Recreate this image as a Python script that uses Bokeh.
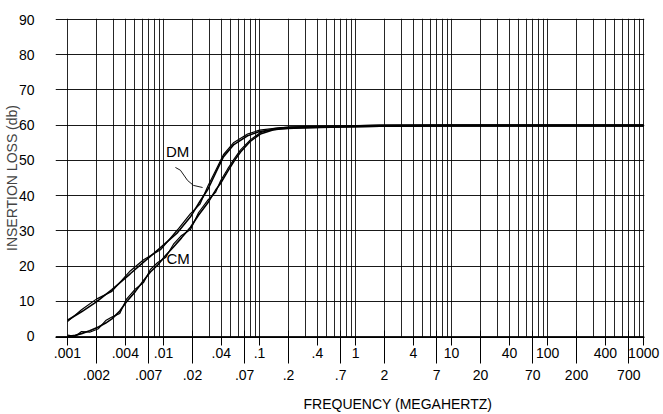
from bokeh.plotting import figure
from bokeh.models import (Range1d, FixedTicker, LogAxis, Label, Title, Grid)
from bokeh.embed import file_html
from bokeh.resources import INLINE

# ---------------- data ----------------
dm_freq = [0.001, 0.0014, 0.002, 0.0029, 0.0045, 0.0062, 0.0093, 0.014, 0.019,
           0.024, 0.029, 0.035, 0.042, 0.054, 0.075, 0.10, 0.165, 0.27, 0.55,
           1.8, 10, 1000]
dm_loss = [4.6, 7.0, 9.8, 13.3, 17.8, 21.1, 25.2, 29.5, 33.9, 38.4, 41.8, 46.5,
           51.0, 54.5, 57.0, 58.2, 59.0, 59.2, 59.4, 59.7, 59.8, 59.8]
dm_loss_2 = [4.2, 7.6, 10.6, 12.8, 18.6, 21.8, 24.6, 30.3, 34.8, 37.6, 42.7, 47.2,
             51.6, 55.1, 57.5, 58.6, 59.3, 59.5, 59.7, 60.0, 60.1, 60.1]

cm_freq = [0.001, 0.0012, 0.0014, 0.0017, 0.0021, 0.0025, 0.0029, 0.0035, 0.0041,
           0.0051, 0.0062, 0.0073, 0.0087, 0.0105, 0.0127, 0.0154, 0.0191, 0.0232,
           0.0287, 0.0348, 0.0393, 0.0464, 0.0549, 0.0634, 0.0806, 0.102, 0.14,
           0.21, 0.43, 1.8, 10, 1000]
cm_loss = [0.0, 0.3, 0.8, 1.6, 2.7, 3.8, 5.0, 7.2, 9.8, 12.8, 15.9, 18.3, 20.3,
           23.0, 25.4, 28.0, 31.0, 34.5, 37.8, 41.5, 43.5, 46.8, 50.0, 52.4, 55.5,
           57.5, 58.7, 59.2, 59.4, 59.7, 59.8, 59.8]
cm_loss_2 = [0.4, 0.0, 1.4, 1.2, 2.2, 4.5, 5.5, 6.5, 10.5, 13.5, 15.3, 19.0, 21.0,
             22.4, 26.2, 28.7, 30.4, 35.2, 38.6, 40.9, 44.2, 47.5, 50.6, 53.0, 55.9,
             57.9, 59.0, 59.5, 59.7, 60.0, 60.1, 60.1]

# DM leader line and label anchors (data coords)
dm_leader_freq = [0.0133, 0.0150, 0.0178, 0.0205, 0.0255]
dm_leader_loss = [48.0, 47.2, 44.3, 42.9, 42.3]
dm_label_pos = (0.0140, 52.6)
cm_label_pos = (0.0142, 22.2)

# tick rows
row1_ticks = [0.001, 0.004, 0.01, 0.04, 0.1, 0.4, 1, 4, 10, 40, 100, 400, 1000]
row1_labels = [".001", ".004", ".01", ".04", ".1", ".4", "1", "4", "10", "40",
               "100", "400", "1000"]
row2_ticks = [0.002, 0.007, 0.02, 0.07, 0.2, 0.7, 2, 7, 20, 70, 200, 700]
row2_labels = [".002", ".007", ".02", ".07", ".2", ".7", "2", "7", "20", "70",
               "200", "700"]
decades = [0.001, 0.01, 0.1, 1, 10, 100]
multipliers = [1, 2, 3, 4, 5, 6, 7, 8, 9]
y_ticks = [0, 10, 20, 30, 40, 50, 60, 70, 80, 90]

FONT = "Liberation Sans"

grid_x = [round(d * m, 6) for d in decades for m in multipliers] + [1000]

p = figure(x_axis_type="log", x_axis_location=None,
           x_range=Range1d(0.00075, 1020), y_range=Range1d(-0.3, 90.3),
           width=663, height=427,
           min_border_left=55, min_border_right=19, min_border_top=18,
           min_border_bottom=90,
           output_backend="svg", toolbar_location=None)
p.outline_line_color = None
p.background_fill_color = "white"
p.border_fill_color = "white"

# x axes (two rows of labels)
ax1 = LogAxis(ticker=FixedTicker(ticks=row1_ticks, minor_ticks=[]))
ax1.major_label_overrides = dict(zip(row1_ticks, row1_labels))
ax1.major_tick_out = 8
ax1.major_tick_in = 0
ax1.minor_tick_out = 0
ax1.minor_tick_in = 0
ax1.major_tick_line_color = "black"
ax1.minor_tick_line_color = None
ax1.axis_line_color = "black"
ax1.major_label_standoff = 2
ax1.major_label_text_font = FONT
ax1.major_label_text_font_size = "14px"
ax1.major_label_text_color = "black"
p.add_layout(ax1, "below")

ax2 = LogAxis(ticker=FixedTicker(ticks=row2_ticks, minor_ticks=[]))
ax2.major_label_overrides = dict(zip(row2_ticks, row2_labels))
ax2.major_tick_out = 3
ax2.major_tick_in = 30
ax2.minor_tick_out = 0
ax2.minor_tick_in = 0
ax2.major_tick_line_color = "black"
ax2.minor_tick_line_color = None
ax2.axis_line_color = None
ax2.major_label_standoff = 6
ax2.major_label_text_font = FONT
ax2.major_label_text_font_size = "14px"
ax2.major_label_text_color = "black"
p.add_layout(ax2, "below")

xt = Title(text="FREQUENCY (MEGAHERTZ)", align="left", offset=248,
           text_font=FONT, text_font_size="14px", text_font_style="normal",
           text_color="black", standoff=22)
p.add_layout(xt, "below")

# y axis
p.yaxis.ticker = FixedTicker(ticks=y_ticks)
p.yaxis.axis_line_color = None
p.yaxis.major_tick_line_color = None
p.yaxis.minor_tick_line_color = None
p.yaxis.major_label_standoff = 15
p.yaxis.major_label_text_font = FONT
p.yaxis.major_label_text_font_size = "14px"
p.yaxis.major_label_text_color = "black"
p.yaxis.axis_label = "INSERTION LOSS (db)"
p.yaxis.axis_label_text_font = FONT
p.yaxis.axis_label_text_font_size = "14px"
p.yaxis.axis_label_text_font_style = "normal"
p.yaxis.axis_label_standoff = -4

# grids
p.ygrid.ticker = FixedTicker(ticks=y_ticks)
p.ygrid.grid_line_color = "black"
p.ygrid.grid_line_width = 1
p.ygrid.grid_line_alpha = 0.9
p.xgrid.grid_line_color = None
vg = Grid(dimension=0, ticker=FixedTicker(ticks=grid_x),
          grid_line_color="black", grid_line_width=1, grid_line_alpha=0.85)
p.add_layout(vg)

# curves (double traces)
p.line(dm_freq, dm_loss, line_color="black", line_width=1.6)
p.line(dm_freq, dm_loss_2, line_color="black", line_width=1.2)
p.line(cm_freq, cm_loss, line_color="black", line_width=1.6)
p.line(cm_freq, cm_loss_2, line_color="black", line_width=1.2)

# annotations
p.line(dm_leader_freq, dm_leader_loss, line_color="black", line_width=0.9)
p.add_layout(Label(x=dm_label_pos[0], y=dm_label_pos[1], text="DM",
                   text_font=FONT, text_font_size="15px", text_align="center",
                   text_baseline="middle", text_color="black",
                   background_fill_color="white", background_fill_alpha=1.0))
p.add_layout(Label(x=cm_label_pos[0], y=cm_label_pos[1], text="CM",
                   text_font=FONT, text_font_size="15px", text_align="center",
                   text_baseline="middle", text_color="black"))

open("out.html", "w").write(file_html(p, INLINE))
